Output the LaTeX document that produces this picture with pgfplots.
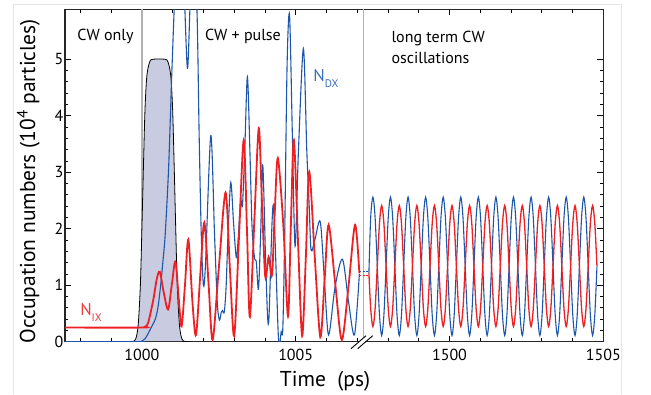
\documentclass[border=0pt]{standalone}
\usepackage{fontspec}
\setmainfont{PT Sans}
\usepackage{pgfplots}
\usepackage{pgfplotstable}
\pgfplotsset{compat=1.18}
\definecolor{cred}{RGB}{237,32,36}
\definecolor{cblue}{RGB}{28,86,170}
\definecolor{lred}{RGB}{236,60,64}
\definecolor{lblue}{RGB}{58,108,192}
\definecolor{pulsefill}{RGB}{201,203,224}
\definecolor{vgray}{RGB}{178,178,178}

% long-term CW oscillations (real time in ps)
\pgfplotstableread{
t dx ix
1497.380 1.22 1.22
1497.438 2.201 0.583
1497.510 2.56 0.27
1497.581 2.201 0.583
1497.653 1.335 1.34
1497.724 0.469 2.097
1497.795 0.11 2.41
1497.867 0.469 2.097
1497.938 1.335 1.34
1498.009 2.201 0.583
1498.081 2.56 0.27
1498.152 2.201 0.583
1498.224 1.335 1.34
1498.295 0.469 2.097
1498.367 0.11 2.41
1498.438 0.469 2.097
1498.510 1.335 1.34
1498.581 2.201 0.583
1498.653 2.56 0.27
1498.724 2.201 0.583
1498.796 1.335 1.34
1498.867 0.469 2.097
1498.939 0.11 2.41
1499.010 0.469 2.097
1499.081 1.335 1.34
1499.152 2.201 0.583
1499.224 2.56 0.27
1499.295 2.201 0.583
1499.367 1.335 1.34
1499.438 0.469 2.097
1499.510 0.11 2.41
1499.581 0.469 2.097
1499.652 1.335 1.34
1499.723 2.201 0.583
1499.795 2.56 0.27
1499.866 2.201 0.583
1499.938 1.335 1.34
1500.009 0.469 2.097
1500.081 0.11 2.41
1500.152 0.469 2.097
1500.224 1.335 1.34
1500.295 2.201 0.583
1500.367 2.56 0.27
1500.438 2.201 0.583
1500.510 1.335 1.34
1500.581 0.469 2.097
1500.653 0.11 2.41
1500.724 0.469 2.097
1500.795 1.335 1.34
1500.866 2.201 0.583
1500.938 2.56 0.27
1501.009 2.201 0.583
1501.081 1.335 1.34
1501.152 0.469 2.097
1501.224 0.11 2.41
1501.295 0.469 2.097
1501.366 1.335 1.34
1501.437 2.201 0.583
1501.509 2.56 0.27
1501.580 2.201 0.583
1501.652 1.335 1.34
1501.723 0.469 2.097
1501.795 0.11 2.41
1501.866 0.469 2.097
1501.937 1.335 1.34
1502.008 2.201 0.583
1502.080 2.56 0.27
1502.151 2.201 0.583
1502.223 1.335 1.34
1502.294 0.469 2.097
1502.366 0.11 2.41
1502.437 0.469 2.097
1502.509 1.335 1.34
1502.580 2.201 0.583
1502.652 2.56 0.27
1502.723 2.201 0.583
1502.795 1.335 1.34
1502.866 0.469 2.097
1502.938 0.11 2.41
1503.009 0.469 2.097
1503.080 1.335 1.34
1503.151 2.201 0.583
1503.223 2.56 0.27
1503.294 2.201 0.583
1503.366 1.335 1.34
1503.437 0.469 2.097
1503.509 0.11 2.41
1503.580 0.469 2.097
1503.651 1.335 1.34
1503.722 2.201 0.583
1503.794 2.56 0.27
1503.865 2.201 0.583
1503.937 1.335 1.34
1504.008 0.469 2.097
1504.080 0.11 2.41
1504.151 0.469 2.097
1504.223 1.335 1.34
1504.294 2.201 0.583
1504.366 2.56 0.27
1504.437 2.201 0.583
1504.509 1.335 1.34
1504.580 0.469 2.097
1504.652 0.11 2.41
1504.723 0.469 2.097
1504.794 1.335 1.34
}\longterm

\begin{document}
\begin{tikzpicture}[x=1pt,y=1pt]
\begin{axis}[
  at={(0,0)}, anchor=south west,
  scale only axis, width=538.3pt, height=332.4pt,
  xmin=997.5, xmax=1015, ymin=0, ymax=5.885,
  xtick={1000,1005,1010,1015}, xticklabels={1000,1005,1500,1505},
  minor xtick={998,999,1001,1002,1003,1004,1006,1007,1008,1009,1011,1012,1013,1014},
  ytick={0,1,2,3,4,5}, minor y tick num=4,
  tick align=inside,
  major tick length=6pt, minor tick length=3.5pt,
  tick style={black, line width=0.8pt},
  axis line style={black!85, line width=1.1pt},
  /pgf/number format/assume math mode=true,
  ticklabel style={font=\fontsize{16}{16}\selectfont},
  xticklabel style={yshift=-4pt},
  yticklabel style={xshift=2pt},
  xlabel={Time\ \ (ps)},
  ylabel={Occupation numbers (10\textsuperscript{4} particles)},
  label style={font=\fontsize{21.5}{21.5}\selectfont},
  xlabel style={at={(axis description cs:0.483,-0.12)}, anchor=center},
  ylabel style={at={(axis description cs:-0.068,0.483)}, anchor=center},
]
% region separators
\addplot[vgray, line width=1.3pt] coordinates {(1000,0) (1000,5.885)};
\addplot[vgray, line width=1.3pt] coordinates {(1007.2,0) (1007.2,5.885)};
% pulse
\addplot[black, line width=0.8pt, fill=pulsefill, smooth] coordinates {
(999.5,0) (999.7,0.005) (999.8,0.05) (999.88,0.3) (999.95,1.0) (1000.0,2.0)
(1000.05,3.1) (1000.1,4.1) (1000.16,4.7) (1000.25,4.95) (1000.35,5.0)
(1000.75,5.0) (1000.85,4.95) (1000.94,4.7) (1001.0,4.1) (1001.05,3.1)
(1001.1,2.0) (1001.15,1.0) (1001.22,0.3) (1001.3,0.05) (1001.4,0.005) (1001.6,0)
} \closedcycle;
% N_DX (blue), CW + pulse
\addplot[cblue, line width=1.1pt, smooth] coordinates {
(997.5,0) (999.85,0) (1000.0,0.01) (1000.1,0.05) (1000.2,0.14) (1000.3,0.25)
(1000.43,0.39) (1000.52,0.6) (1000.6,0.95) (1000.68,1.4) (1000.76,1.92)
(1000.87,3.10) (1000.98,4.87) (1001.1,6.5) (1001.24,7.3) (1001.36,6.4)
(1001.48,4.84) (1001.57,6.0) (1001.67,6.7) (1001.79,5.87) (1001.86,3.69)
(1001.93,1.9) (1002.0,1.0) (1002.07,1.4) (1002.24,3.65) (1002.36,1.92)
(1002.45,0.7) (1002.52,0.38) (1002.58,0.52) (1002.62,0.55) (1002.68,0.53)
(1002.74,1.0) (1002.80,1.92) (1002.89,2.82) (1002.98,2.1) (1003.07,1.49)
(1003.14,1.9) (1003.21,2.51) (1003.27,2.42) (1003.35,3.5) (1003.43,4.69)
(1003.51,3.4) (1003.58,2.04) (1003.66,1.49) (1003.72,1.41) (1003.79,0.93)
(1003.86,1.9) (1003.93,3.12) (1004.03,1.3) (1004.12,0.33) (1004.27,2.42)
(1004.44,0.06) (1004.53,0.18) (1004.58,0.22) (1004.64,1.8) (1004.72,4.9)
(1004.80,5.78) (1004.89,3.7) (1004.98,1.69) (1005.09,3.39) (1005.25,5.19)
(1005.36,3.39) (1005.44,2.39) (1005.50,1.62) (1005.63,1.82) (1005.80,2.12)
(1005.94,1.03) (1006.07,0.12) (1006.28,0.97) (1006.52,1.46) (1006.72,0.7)
(1006.91,0.12) (1007.07,1.2)
};
% N_IX (red), CW + pulse
\addplot[cred, line width=1.8pt, smooth] coordinates {
(997.5,0.25) (1000.0,0.25) (1000.08,0.26) (1000.2,0.33) (1000.37,0.74)
(1000.48,1.1) (1000.58,1.24) (1000.7,0.9) (1000.85,0.57) (1000.97,1.0)
(1001.09,1.42) (1001.2,0.75) (1001.29,0.27) (1001.40,1.0) (1001.51,1.81)
(1001.65,0.65) (1001.76,0.12) (1001.9,1.2) (1002.03,2.11) (1002.17,1.0)
(1002.30,0.03) (1002.50,1.3) (1002.72,2.64) (1002.86,1.3) (1003.00,0.10)
(1003.16,1.9) (1003.31,3.57) (1003.42,1.9) (1003.51,0.44) (1003.66,2.2)
(1003.80,3.78) (1003.90,2.51) (1004.01,1.15) (1004.12,1.50) (1004.23,1.18)
(1004.32,2.3) (1004.42,3.25) (1004.60,2.04) (1004.75,0.45) (1004.84,2.0)
(1004.94,3.57) (1005.08,1.7) (1005.21,0.10) (1005.33,1.5) (1005.44,3.01)
(1005.62,1.5) (1005.80,0.08) (1005.94,1.1) (1006.07,2.07) (1006.29,1.0)
(1006.50,0.03) (1006.72,1.0) (1006.93,2.07) (1007.07,1.21)
};
% long-term CW part (shifted by 490 ps onto the broken axis)
\addplot[cblue, line width=1.1pt, smooth] table[x expr=\thisrow{t}-490, y=dx] {\longterm};
\addplot[cred, line width=1.3pt, smooth] table[x expr=\thisrow{t}-490, y=ix] {\longterm};
% dashed bridges across the break
\addplot[cblue, line width=0.7pt, dash pattern=on 2pt off 1.2pt] coordinates {(1007.07,1.24) (1007.38,1.24)};
\addplot[cred, line width=0.7pt, dash pattern=on 2pt off 1.2pt] coordinates {(1007.07,1.18) (1007.38,1.18)};
% annotations
\node[anchor=west, font=\fontsize{16}{16}\selectfont] at (axis cs:997.79,5.40) {CW only};
\node[anchor=west, font=\fontsize{16}{16}\selectfont] at (axis cs:1001.94,5.40) {CW + pulse};
\node[anchor=west, font=\fontsize{16}{16}\selectfont] at (axis cs:1008.0,5.36) {long term CW};
\node[anchor=west, font=\fontsize{16}{16}\selectfont] at (axis cs:1008.0,5.02) {oscillations};
\node[anchor=base west, inner sep=0, text=lred, font=\fontsize{17}{17}\selectfont] at (axis cs:997.99,0.47) {N\raisebox{-6pt}{\fontsize{11}{11}\selectfont IX}};
\node[anchor=base west, inner sep=0, text=lblue, font=\fontsize{17}{17}\selectfont] at (axis cs:1005.57,4.60) {N\raisebox{-6pt}{\fontsize{11}{11}\selectfont DX}};
\end{axis}
% axis break marks (coordinates relative to the axis origin)
\fill[white] (287.5,-5.8) -- (300.5,5.5) -- (306.5,5.5) -- (293.5,-5.8) -- cycle;
\draw[black, line width=0.9pt] (286,-7) -- (301,6);
\draw[black, line width=0.9pt] (292.7,-7) -- (307.7,6);
% light panel frame
\draw[black!10, line width=0.8pt] (-51.7,-52.3) -- (-51.7,337.4) -- (556.7,337.4) -- (556.7,-52.3);
\pgfresetboundingbox
\path[use as bounding box] (-65,-52.3) rectangle (586,341.7);
\end{tikzpicture}
\end{document}
